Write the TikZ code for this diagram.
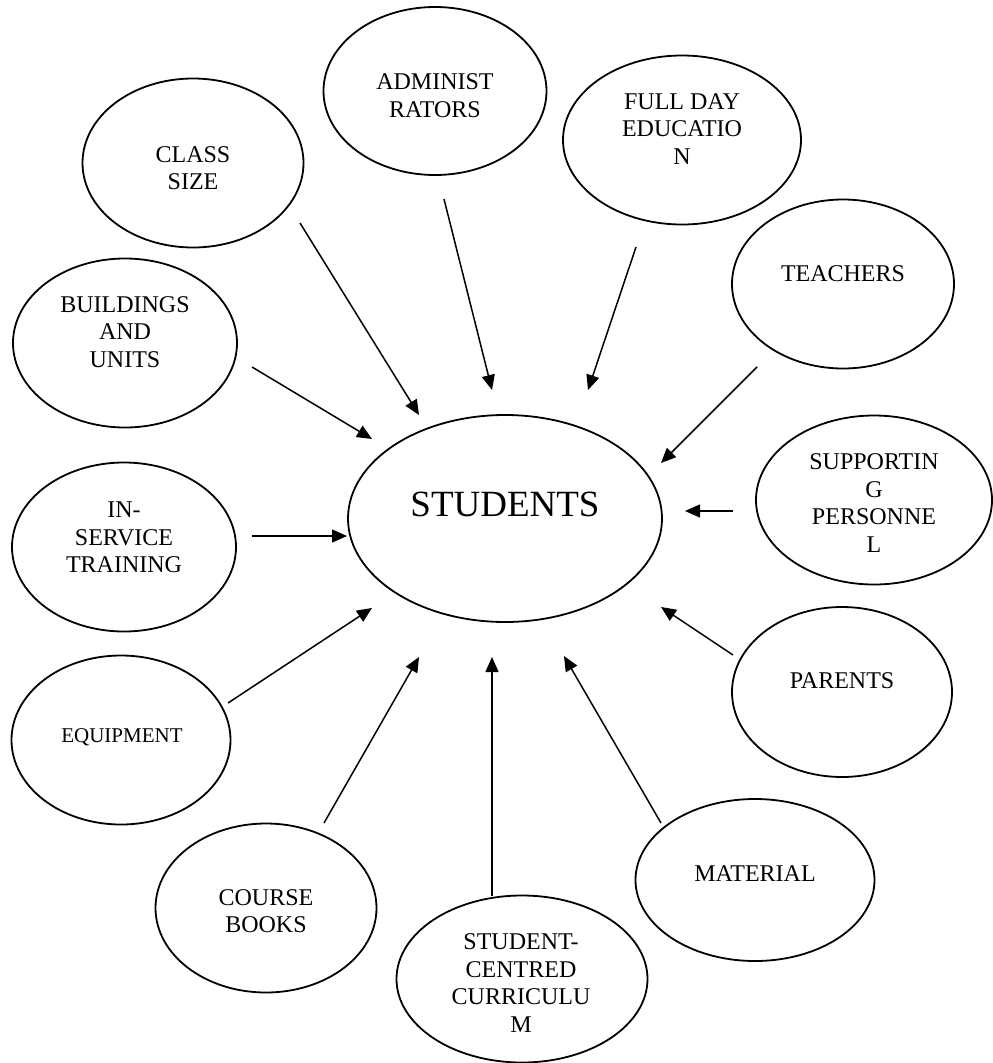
\documentclass[tikz,border=0pt]{standalone}
\usepackage{fontspec}
\setmainfont{Liberation Serif}
\usetikzlibrary{shapes.geometric,arrows.meta}
\begin{document}
\begin{tikzpicture}[x=1pt,y=-1pt,
  factor/.style={draw, ellipse, line width=1.8pt, inner sep=0pt},
  caption/.style={align=center, font=\fontsize{24}{27.6}\selectfont, inner sep=0pt},
  link/.style={line width=1.5pt, -{Triangle[length=15pt,width=13pt]}}]
\useasboundingbox (0,0) rectangle (993,1063);

% outer factors
\node[factor, minimum width=221pt, minimum height=169pt] (cls) at (193,163) {};
\node[factor, minimum width=223pt, minimum height=168pt] (adm) at (435,91) {};
\node[factor, minimum width=238pt, minimum height=169pt] (ful) at (682,140) {};
\node[factor, minimum width=222pt, minimum height=169pt] (tea) at (843,284) {};
\node[factor, minimum width=224pt, minimum height=169pt] (bld) at (125,343) {};
\node[factor, minimum width=224pt, minimum height=169pt] (ins) at (124,547) {};
\node[factor, minimum width=236pt, minimum height=169pt] (sup) at (874,500) {};
\node[factor, minimum width=220pt, minimum height=170pt] (par) at (842,692) {};
\node[factor, minimum width=219pt, minimum height=169pt] (eqp) at (121,740) {};
\node[factor, minimum width=221pt, minimum height=169pt] (crs) at (266,908) {};
\node[factor, minimum width=251pt, minimum height=167pt] (scc) at (522,979) {};
\node[factor, minimum width=239pt, minimum height=162pt] (mat) at (755,880) {};

% centre
\node[factor, minimum width=314pt, minimum height=207pt] (stu) at (505,518.5) {};

% labels
\node[caption] (t-cls) at (193,168) {CLASS\\SIZE};
\node[caption] (t-adm) at (435,95.5) {ADMINIST\\RATORS};
\node[caption] (t-ful) at (682,129) {FULL DAY\\EDUCATIO\\N};
\node[caption] (t-tea) at (843,274) {TEACHERS};
\node[caption] (t-bld) at (125,332) {BUILDINGS\\AND\\UNITS};
\node[caption] (t-ins) at (124,537.5) {IN-\\SERVICE\\TRAINING};
\node[caption] (t-sup) at (874,503) {SUPPORTIN\\G\\PERSONNE\\L};
\node[caption] (t-par) at (842,681) {PARENTS};
\node[caption, font=\fontsize{21}{25}\selectfont] (t-eqp) at (122,737) {EQUIPMENT};
\node[caption] (t-crs) at (266,911) {COURSE\\BOOKS};
\node[caption] (t-scc) at (521,983) {STUDENT-\\CENTRED\\CURRICULU\\M};
\node[caption] (t-mat) at (755,873.5) {MATERIAL};
\node[caption, font=\fontsize{37}{40}\selectfont] (t-stu) at (505,504) {STUDENTS};

% arrow ends
\coordinate (cls-s) at (300,223);  \coordinate (cls-e) at (419,415);
\coordinate (adm-s) at (444,199);  \coordinate (adm-e) at (492,390);
\coordinate (ful-s) at (636,247);  \coordinate (ful-e) at (588,390);
\coordinate (tea-s) at (757,367);  \coordinate (tea-e) at (661,463);
\coordinate (bld-s) at (252,367);  \coordinate (bld-e) at (372,439);
\coordinate (ins-s) at (252,536);  \coordinate (ins-e) at (347,536);
\coordinate (sup-s) at (733,511);  \coordinate (sup-e) at (685,511);
\coordinate (par-s) at (733,655);  \coordinate (par-e) at (661,607);
\coordinate (eqp-s) at (228,703);  \coordinate (eqp-e) at (372,608);
\coordinate (crs-s) at (324,823);  \coordinate (crs-e) at (419,657);
\coordinate (scc-s) at (492,896);  \coordinate (scc-e) at (492,657);
\coordinate (mat-s) at (661,823);  \coordinate (mat-e) at (564,656);

% influences pointing at the students
\foreach \k in {cls,adm,ful,tea,bld,ins,sup,par,eqp,crs,scc,mat}
  \draw[link] (\k-s) -- (\k-e);
\end{tikzpicture}
\end{document}
